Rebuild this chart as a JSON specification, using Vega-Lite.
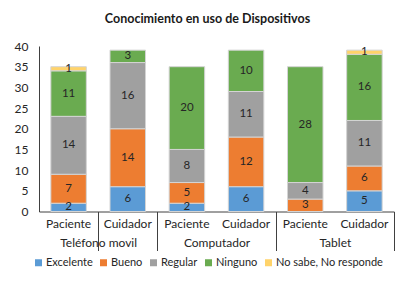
{
  "$schema": "https://vega.github.io/schema/vega-lite/v6.json",
  "width": 355,
  "height": 165.5,
  "autosize": {"type": "none"},
  "padding": {"left": 39, "top": 46, "right": 19, "bottom": 70.5},
  "background": "white",
  "title": {
    "text": "Conocimiento en uso de Dispositivos",
    "fontSize": 12.5,
    "fontWeight": "bold",
    "font": "Lato",
    "color": "#1a1a1a",
    "anchor": "middle",
    "offset": 15,
    "dx": -9
  },
  "data": {
    "values": [
      {"barra": "Teléfono movil|Paciente", "categoria": "Excelente", "valor": 2},
      {"barra": "Teléfono movil|Paciente", "categoria": "Bueno", "valor": 7},
      {"barra": "Teléfono movil|Paciente", "categoria": "Regular", "valor": 14},
      {"barra": "Teléfono movil|Paciente", "categoria": "Ninguno", "valor": 11},
      {"barra": "Teléfono movil|Paciente", "categoria": "No sabe, No responde", "valor": 1},
      {"barra": "Teléfono movil|Cuidador", "categoria": "Excelente", "valor": 6},
      {"barra": "Teléfono movil|Cuidador", "categoria": "Bueno", "valor": 14},
      {"barra": "Teléfono movil|Cuidador", "categoria": "Regular", "valor": 16},
      {"barra": "Teléfono movil|Cuidador", "categoria": "Ninguno", "valor": 3},
      {"barra": "Computador|Paciente", "categoria": "Excelente", "valor": 2},
      {"barra": "Computador|Paciente", "categoria": "Bueno", "valor": 5},
      {"barra": "Computador|Paciente", "categoria": "Regular", "valor": 8},
      {"barra": "Computador|Paciente", "categoria": "Ninguno", "valor": 20},
      {"barra": "Computador|Cuidador", "categoria": "Excelente", "valor": 6},
      {"barra": "Computador|Cuidador", "categoria": "Bueno", "valor": 12},
      {"barra": "Computador|Cuidador", "categoria": "Regular", "valor": 11},
      {"barra": "Computador|Cuidador", "categoria": "Ninguno", "valor": 10},
      {"barra": "Tablet|Paciente", "categoria": "Bueno", "valor": 3},
      {"barra": "Tablet|Paciente", "categoria": "Regular", "valor": 4},
      {"barra": "Tablet|Paciente", "categoria": "Ninguno", "valor": 28},
      {"barra": "Tablet|Cuidador", "categoria": "Excelente", "valor": 5},
      {"barra": "Tablet|Cuidador", "categoria": "Bueno", "valor": 6},
      {"barra": "Tablet|Cuidador", "categoria": "Regular", "valor": 11},
      {"barra": "Tablet|Cuidador", "categoria": "Ninguno", "valor": 16},
      {"barra": "Tablet|Cuidador", "categoria": "No sabe, No responde", "valor": 1}
    ]
  },
  "transform": [
    {"calculate": "indexof(['Excelente', 'Bueno', 'Regular', 'Ninguno', 'No sabe, No responde'], datum.categoria)", "as": "orden"}
  ],
  "layer": [
    {
      "mark": {"type": "bar", "width": {"band": 0.6}, "stroke": "#d4d4d4", "strokeWidth": 1},
      "encoding": {
        "x": {
          "field": "barra",
          "type": "nominal",
          "sort": null,
          "scale": {
            "domain": ["Teléfono movil|Paciente", "Teléfono movil|Cuidador", "Computador|Paciente", "Computador|Cuidador", "Tablet|Paciente", "Tablet|Cuidador"],
            "paddingInner": 0,
            "paddingOuter": 0
          },
          "axis": {
            "orient": "bottom",
            "title": null,
            "labelAngle": 0,
            "labelExpr": "split(datum.value, '|')[1]",
            "ticks": false,
            "domain": true,
            "domainColor": "#404040",
            "labelPadding": 7,
            "labelFontSize": 12,
            "labelFont": "Lato",
            "labelColor": "#262626"
          }
        },
        "y": {
          "field": "valor",
          "type": "quantitative",
          "stack": "zero",
          "scale": {"domain": [0, 40], "nice": false},
          "axis": {
            "title": null,
            "values": [0, 5, 10, 15, 20, 25, 30, 35, 40],
            "tickCount": 20,
            "labelOverlap": false,
            "grid": false,
            "ticks": false,
            "domain": true,
            "domainColor": "#404040",
            "labelPadding": 11,
            "labelFontSize": 12,
            "labelFont": "Lato",
            "labelColor": "#262626"
          }
        },
        "color": {
          "field": "categoria",
          "type": "nominal",
          "sort": ["Excelente", "Bueno", "Regular", "Ninguno", "No sabe, No responde"],
          "scale": {
            "domain": ["Excelente", "Bueno", "Regular", "Ninguno", "No sabe, No responde"],
            "range": ["#5B9BD5", "#ED7D31", "#A0A0A0", "#6AAB50", "#FFD36A"]
          },
          "legend": {
            "title": null,
            "orient": "none",
            "direction": "horizontal",
            "legendX": -6,
            "legendY": 211,
            "symbolType": "square",
            "symbolSize": 49,
            "symbolStrokeWidth": 0,
            "labelFontSize": 11,
            "labelFont": "Lato",
            "labelColor": "#262626",
            "labelOffset": 2,
            "columnPadding": 5
          }
        },
        "order": {"field": "orden", "type": "quantitative", "sort": "ascending"}
      }
    },
    {
      "mark": {"type": "text", "fontSize": 11.5, "font": "Lato", "color": "#262626", "baseline": "middle"},
      "encoding": {
        "x": {
          "field": "barra",
          "type": "nominal",
          "sort": null,
          "axis": {
            "orient": "bottom",
            "title": null,
            "values": ["Teléfono movil|Cuidador", "Computador|Cuidador", "Tablet|Cuidador"],
            "tickBand": "extent",
            "labelAngle": 0,
            "labelExpr": "isString(datum.value) ? split(datum.value, '|')[0] : ''",
            "labelOffset": -29.6,
            "domain": false,
            "ticks": true,
            "tickSize": 39,
            "tickColor": "#404040",
            "labelPadding": -13,
            "labelFontSize": 12,
            "labelFont": "Lato",
            "labelColor": "#262626"
          }
        },
        "y": {
          "field": "valor",
          "type": "quantitative",
          "stack": "zero",
          "bandPosition": 0.5
        },
        "detail": {"field": "categoria"},
        "order": {"field": "orden", "type": "quantitative", "sort": "ascending"},
        "text": {"field": "valor", "type": "quantitative"}
      }
    }
  ],
  "resolve": {"axis": {"x": "independent"}},
  "config": {
    "view": {"stroke": null}
  }
}
